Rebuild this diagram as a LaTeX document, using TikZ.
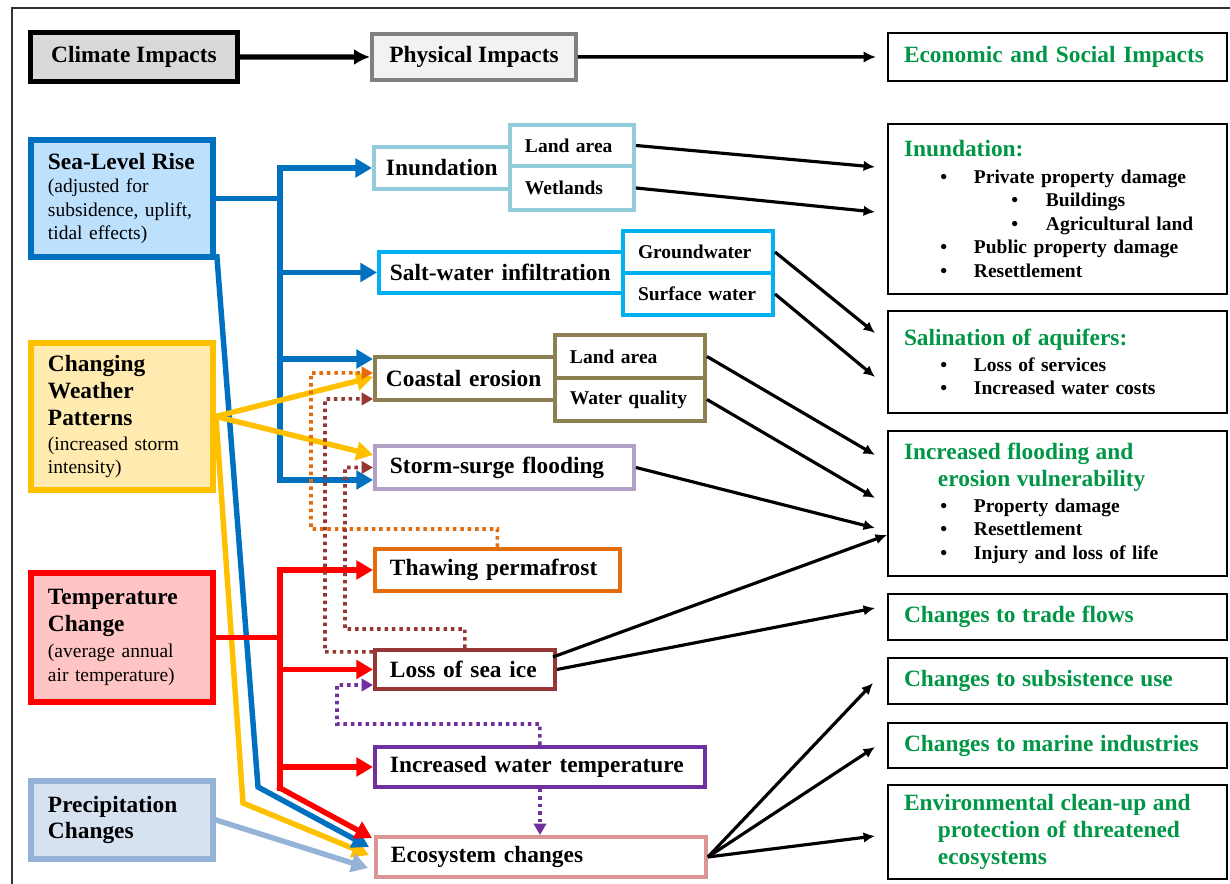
\documentclass[tikz,border=0pt]{standalone}
\usepackage{fontspec}
\setmainfont{Liberation Serif}
\usetikzlibrary{arrows.meta}

\definecolor{climgray}{RGB}{217,217,217}
\definecolor{physgray}{RGB}{128,128,128}
\definecolor{physfill}{RGB}{242,242,242}
\definecolor{slrblue}{RGB}{0,112,192}
\definecolor{slrfill}{RGB}{189,224,252}
\definecolor{wxyellow}{RGB}{255,192,0}
\definecolor{wxfill}{RGB}{255,235,175}
\definecolor{tempred}{RGB}{255,0,0}
\definecolor{tempfill}{RGB}{255,196,196}
\definecolor{precipblue}{RGB}{149,179,215}
\definecolor{precipfill}{RGB}{214,226,240}
\definecolor{inundblue}{RGB}{146,205,220}
\definecolor{saltblue}{RGB}{0,176,240}
\definecolor{coastolive}{RGB}{140,128,82}
\definecolor{stormlilac}{RGB}{178,161,199}
\definecolor{thaworange}{RGB}{228,108,10}
\definecolor{icebrown}{RGB}{150,55,53}
\definecolor{warmpurple}{RGB}{112,48,160}
\definecolor{ecopink}{RGB}{217,150,148}
\definecolor{econgreen}{RGB}{0,150,70}

\newcommand{\bigsize}{\fontsize{13.3}{15.3}\selectfont}
\newcommand{\smallsize}{\fontsize{11.1}{13.4}\selectfont}
\newcommand{\bul}{\hspace*{0.73cm}\makebox[0.67cm][l]{\textbullet}}
\newcommand{\subbul}{\hspace*{2.15cm}\makebox[0.69cm][l]{\textbullet}}
\newcommand{\hanging}{\hspace*{0.68cm}}
\newcommand{\heading}[1]{{\color{econgreen}\bigsize #1}}

\tikzset{
    driver/.style 2 args={draw=#1, fill=#2, line width=3.4pt, anchor=north west, inner xsep=0.34cm, inner ysep=0pt, text width=2.96cm, align=left, font=\smallsize},
    physbox/.style={draw=#1, fill=white, line width=2.27pt, anchor=north west, inner xsep=0.3cm, inner ysep=0pt, align=left, font=\bfseries\bigsize},
    subbox/.style={draw=#1, fill=white, line width=2.27pt, anchor=north west, inner xsep=0.3cm, inner ysep=0pt, align=left, font=\bfseries\smallsize},
    impact/.style={draw, line width=1.13pt, anchor=north west, inner xsep=0.32cm, inner ysep=0pt, text width=6.14cm, align=left, font=\bfseries\smallsize},
    pipe/.style={draw=#1, line width=3.1pt, line cap=rect, -{Triangle[length=9.5pt,width=10.5pt]}},
    feedback/.style={draw=#1, line width=2pt, dash pattern=on 2pt off 2.2pt, -{Triangle[length=6.5pt,width=7pt]}},
    outcome/.style={draw, line width=1.8pt, -{Latex[length=6.5pt,width=6pt]}},
}

\begin{document}
\begin{tikzpicture}[x=0.02cm, y=-0.02cm]
    \useasboundingbox (0,0) rectangle (1230,884);
    \draw[line width=0.85pt, black!80] (12,884) -- (12,8) -- (1230,8);

    % Header row
    \node[draw, line width=2.83pt, fill=climgray, anchor=north west, minimum width=4.14cm, minimum height=0.98cm, inner sep=0pt, font=\bfseries\bigsize] (climate) at (28,30) {Climate Impacts};
    \node[draw=physgray, line width=2.27pt, fill=physfill, anchor=north west, minimum width=4.08cm, minimum height=0.92cm, inner sep=0pt, font=\bfseries\bigsize] (physical) at (370,32) {Physical Impacts};
    \node[impact, minimum height=0.96cm, font=\bfseries\bigsize, text=econgreen] (econ) at (887,32) {Economic and Social Impacts};
    \draw[line width=3pt, -{Latex[length=9pt,width=9pt]}] (climate) -- (physical);
    \draw[line width=2pt, -{Latex[length=7pt,width=6.5pt]}] (physical) -- ([shift={(-11,0)}]econ.west);

    % Climate drivers
    \node[driver={slrblue}{slrfill}, minimum height=2.34cm] (slr) at (28,137) {{\bfseries\bigsize Sea-Level Rise}\\ (adjusted for\\ subsidence, uplift,\\ tidal effects)};
    \node[driver={wxyellow}{wxfill}, minimum height=2.94cm] (weather) at (28,340) {{\bfseries\bigsize Changing}\\[1.9pt] {\bfseries\bigsize Weather}\\[1.9pt] {\bfseries\bigsize Patterns}\\[0.8pt] (increased storm\\ intensity)};
    \node[driver={tempred}{tempfill}, minimum height=2.58cm] (temp) at (28,570) {{\bfseries\bigsize Temperature}\\[1.9pt] {\bfseries\bigsize Change}\\[1.3pt] (average annual\\ air temperature)};
    \node[driver={precipblue}{precipfill}, minimum height=1.56cm] (precip) at (28,778) {{\bfseries\bigsize Precipitation}\\[1.9pt] {\bfseries\bigsize Changes}};

    % Physical impacts
    \node[physbox=inundblue, text width=2.24cm, inner xsep=0.24cm, minimum height=0.84cm] (inund) at (372,145) {Inundation};
    \node[subbox=inundblue, text width=1.88cm, minimum height=0.82cm] (inLand) at (508,123) {Land area};
    \node[subbox=inundblue, text width=1.88cm, minimum height=0.88cm] (inWet) at (508,164) {Wetlands};
    \node[physbox=saltblue, text width=4.44cm, inner xsep=0.22cm, minimum height=0.82cm] (salt) at (377,250) {Salt-water infiltration};
    \node[subbox=saltblue, text width=2.4cm, minimum height=0.84cm] (gw) at (621,229) {Groundwater};
    \node[subbox=saltblue, text width=2.4cm, minimum height=0.84cm] (sw) at (621,271) {Surface water};
    \node[physbox=coastolive, text width=3.16cm, inner xsep=0.22cm, minimum height=0.86cm] (coast) at (373,355) {Coastal erosion};
    \node[subbox=coastolive, text width=2.4cm, minimum height=0.86cm] (ceLand) at (553,333) {Land area};
    \node[subbox=coastolive, text width=2.4cm, minimum height=0.86cm] (ceWater) at (553,376) {Water quality};
    \node[physbox=stormlilac, text width=4.58cm, minimum height=0.86cm] (storm) at (373,444) {Storm-surge flooding};
    \node[physbox=thaworange, text width=4.3cm, minimum height=0.84cm] (thaw) at (373,547) {Thawing permafrost};
    \node[physbox=icebrown, text width=3.0cm, minimum height=0.78cm] (loss) at (373,648) {Loss of sea ice};
    \node[physbox=warmpurple, text width=6.0cm, minimum height=0.8cm] (iwt) at (373,745) {Increased water temperature};
    \node[physbox=ecopink, text width=6.0cm, minimum height=0.8cm] (eco) at (374,835) {Ecosystem changes};

    % Economic and social impacts
    \node[impact, minimum height=3.4cm] (rInund) at (887,123) {\heading{Inundation:}\\[1.9pt] \bul Private property damage\\ \subbul Buildings\\ \subbul Agricultural land\\ \bul Public property damage\\ \bul Resettlement};
    \node[impact, minimum height=2.04cm] (rSalin) at (887,310) {\heading{Salination of aquifers:}\\[1.3pt] \bul Loss of services\\ \bul Increased water costs};
    \node[impact, minimum height=2.9cm] (rFlood) at (887,430) {\heading{Increased flooding and}\\[1.9pt] \heading{\hanging erosion vulnerability}\\[1.3pt] \bul Property damage\\ \bul Resettlement\\ \bul Injury and loss of life};
    \node[impact, minimum height=0.92cm] (rTrade) at (887,593) {\heading{Changes to trade flows}};
    \node[impact, minimum height=0.92cm] (rSubs) at (887,657) {\heading{Changes to subsistence use}};
    \node[impact, minimum height=0.9cm] (rMarine) at (887,722) {\heading{Changes to marine industries}};
    \node[impact, minimum height=1.88cm] (rEnv) at (887,784) {\heading{Environmental clean-up and}\\[1.9pt] \heading{\hanging protection of threatened}\\[1.9pt] \heading{\hanging ecosystems}};

    % Changing weather, long line
    \draw[pipe=wxyellow] (weather.east) -- (243,803) -- ([shift={(-5,-2)}]eco.west);

    % Sea-level rise
    \coordinate (slrFork) at (280,200);
    \coordinate (coastBlue) at ([shift={(0,-19.5)}]coast.west);
    \coordinate (stormBlue) at ([shift={(0,12.5)}]storm.west);
    \draw[pipe=slrblue, -] (slr.east) -- (slr.east -| slrFork);
    \draw[pipe=slrblue] (slrFork |- stormBlue) |- (inund.west);
    \draw[pipe=slrblue] (slrFork |- salt.west) -- (salt.west);
    \draw[pipe=slrblue] (slrFork |- coastBlue) -- (coastBlue);
    \draw[pipe=slrblue] (slrFork |- stormBlue) -- (stormBlue);
    \draw[pipe=slrblue] ([shift={(1,-3)}]slr.south east) -- (258,787) -- ([shift={(-5,-10)}]eco.west);

    % Changing weather
    \draw[pipe=wxyellow] (weather.east) -- ([shift={(0,-1.5)}]coast.west);
    \draw[pipe=wxyellow] (weather.east) -- ([shift={(0,-12.5)}]storm.west);

    % Temperature change
    \coordinate (tempFork) at (280,639);
    \coordinate (tempKnee) at (280,788);
    \draw[pipe=tempred, -] (temp.east) -- (temp.east -| tempFork);
    \draw[pipe=tempred] (tempKnee) |- (thaw.west);
    \draw[pipe=tempred] (tempFork |- loss.west) -- (loss.west);
    \draw[pipe=tempred] (tempFork |- iwt.west) -- (iwt.west);
    \draw[pipe=tempred] (tempKnee) -- ([shift={(-2,-19)}]eco.west);

    % Precipitation
    \draw[pipe=precipblue] (precip.east) -- ([shift={(-6,11)}]eco.west);

    % Feedbacks between physical impacts
    \draw[feedback=thaworange] (thaw.north) -- ++(0,-18) -| (311,373) -- ([shift={(0,-5.5)}]coast.west);
    \draw[feedback=icebrown] ([shift={(0,-17.5)}]loss.west) -| (325,399) -- ([shift={(0,20.5)}]coast.west);
    \draw[feedback=icebrown] (loss.north) -- ++(0,-19) -| (345,467.5) -- (storm.west);
    \draw[feedback=warmpurple] (iwt.north) -- ++(0,-21) -| (337,685) -- ([shift={(0,15.5)}]loss.west);
    \draw[feedback=warmpurple] (iwt.south) -- (iwt.south |- eco.north);

    % Physical to economic and social
    \draw[outcome] (inLand.east) -- ([shift={(-12,44)}]rInund.north west);
    \draw[outcome] (inWet.east) -- ([shift={(-12,89)}]rInund.north west);
    \draw[outcome] (gw.east) -- ([shift={(-12,23)}]rSalin.north west);
    \draw[outcome] (sw.east) -- ([shift={(-12,67)}]rSalin.north west);
    \draw[outcome] (ceLand.east) -- ([shift={(-12,25)}]rFlood.north west);
    \draw[outcome] (ceWater.east) -- ([shift={(-12,68)}]rFlood.north west);
    \draw[outcome] (storm.east) -- ([shift={(-12,98)}]rFlood.north west);
    \draw[outcome] ([shift={(-4,-12.5)}]loss.east) -- ([shift={(0,105)}]rFlood.north west);
    \draw[outcome] (loss.east) -- ([shift={(-12,15)}]rTrade.north west);
    \draw[outcome] (eco.east) -- ([shift={(-14,26)}]rSubs.north west);
    \draw[outcome] (eco.east) -- ([shift={(-12,25)}]rMarine.north west);
    \draw[outcome] (eco.east) -- ([shift={(-12,52)}]rEnv.north west);
\end{tikzpicture}
\end{document}
